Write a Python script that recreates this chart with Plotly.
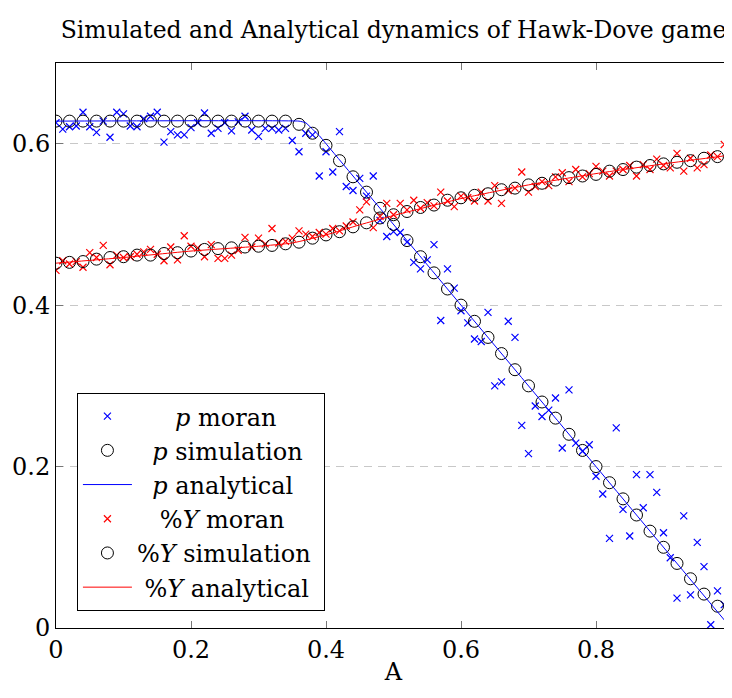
import plotly.graph_objects as go

# ---------------- data ----------------
a_moran = [round(i * 0.01, 2) for i in range(101)]
a_sim = [round(i * 0.02, 2) for i in range(51)]

p_moran = [
    0.626, 0.618, 0.621, 0.622, 0.639, 0.621, 0.614, 0.628, 0.608, 0.639,
    0.637, 0.622, 0.621, 0.631, 0.634, 0.639, 0.602, 0.615, 0.611, 0.611,
    0.620, 0.626, 0.638, 0.613, 0.619, 0.626, 0.616, 0.627, 0.634, 0.617,
    0.609, 0.619, 0.619, 0.617, 0.619, 0.604, 0.590, 0.613, 0.611, 0.560,
    0.590, 0.565, 0.615, 0.547, 0.542, 0.557, 0.535, 0.560, 0.505, 0.485,
    0.491, 0.490, 0.478, 0.453, 0.445, 0.456, 0.475, 0.381, 0.445, 0.421,
    0.393, 0.378, 0.358, 0.355, 0.391, 0.300, 0.305, 0.380, 0.360, 0.251,
    0.216, 0.275, 0.262, 0.270, 0.285, 0.223, 0.295, 0.229, 0.219, 0.227,
    0.188, 0.166, 0.111, 0.248, 0.147, 0.114, 0.190, 0.149, 0.190, 0.168,
    0.118, 0.087, 0.037, 0.139, 0.041, 0.106, 0.076, 0.004, 0.046, 0.029,
    0.073,
]

p_sim = [
    0.628, 0.628, 0.628, 0.628, 0.628, 0.628, 0.628, 0.628, 0.628, 0.628,
    0.628, 0.628, 0.628, 0.628, 0.628, 0.628, 0.628, 0.628, 0.624, 0.613,
    0.598, 0.579, 0.559, 0.540, 0.520, 0.500, 0.480, 0.460, 0.440, 0.420,
    0.400, 0.380, 0.360, 0.340, 0.320, 0.300, 0.280, 0.260, 0.240, 0.220,
    0.200, 0.180, 0.160, 0.140, 0.120, 0.100, 0.080, 0.061, 0.042, 0.027,
    0.014,
]

p_anal_a = [0.0, 0.36, 0.37, 0.38, 0.39, 0.40, 1.0]
p_anal = [0.628, 0.628, 0.626, 0.618, 0.610, 0.600, 0.0]

y_moran = [
    0.443, 0.455, 0.451, 0.454, 0.447, 0.465, 0.459, 0.474, 0.450, 0.462,
    0.459, 0.460, 0.463, 0.466, 0.469, 0.463, 0.455, 0.472, 0.456, 0.486,
    0.473, 0.471, 0.460, 0.475, 0.458, 0.458, 0.462, 0.468, 0.484, 0.472,
    0.483, 0.476, 0.495, 0.477, 0.479, 0.483, 0.492, 0.488, 0.485, 0.490,
    0.488, 0.495, 0.492, 0.498, 0.503, 0.518, 0.528, 0.496, 0.510, 0.526,
    0.512, 0.526, 0.518, 0.530, 0.520, 0.527, 0.523, 0.540, 0.529, 0.522,
    0.535, 0.533, 0.529, 0.540, 0.529, 0.548, 0.526, 0.542, 0.545, 0.565,
    0.540, 0.547, 0.553, 0.548, 0.559, 0.564, 0.553, 0.568, 0.559, 0.563,
    0.572, 0.566, 0.560, 0.566, 0.568, 0.573, 0.560, 0.574, 0.568, 0.581,
    0.573, 0.570, 0.588, 0.566, 0.582, 0.570, 0.574, 0.586, 0.584, 0.599,
    0.595,
]

y_sim = [
    0.452, 0.453, 0.454, 0.457, 0.459, 0.460, 0.462, 0.462, 0.464, 0.465,
    0.467, 0.469, 0.470, 0.471, 0.472, 0.473, 0.474, 0.476, 0.478, 0.483,
    0.487, 0.491, 0.497, 0.502, 0.508, 0.512, 0.516, 0.521, 0.524, 0.530,
    0.533, 0.536, 0.538, 0.543, 0.545, 0.549, 0.551, 0.555, 0.558, 0.560,
    0.562, 0.566, 0.568, 0.571, 0.573, 0.575, 0.577, 0.579, 0.582, 0.584,
    0.586,
]

y_anal_a = [0.0, 0.1, 0.2, 0.3, 0.35, 0.4, 0.45, 0.5, 0.6, 0.7, 0.8, 0.9, 1.0]
y_anal = [0.452, 0.459, 0.467, 0.473, 0.477, 0.487, 0.4995, 0.511, 0.532, 0.549, 0.563, 0.575, 0.586]

x_ticks = [0, 0.2, 0.4, 0.6, 0.8, 1]
x_tick_labels = ["0", "0.2", "0.4", "0.6", "0.8", "1"]
y_ticks = [0, 0.2, 0.4, 0.6]
y_tick_labels = ["0", "0.2", "0.4", "0.6"]

FONT = "DejaVu Serif"
FS = 24
NB = "\u00a0"  # non-breaking spaces used to centre legend labels

fig = go.Figure()
fig.add_trace(go.Scatter(x=a_moran, y=p_moran, mode="markers", name=NB * 5 + "<i>p</i> moran",
                         marker=dict(symbol="x-thin", size=7, line=dict(color="blue", width=1.2), color="blue")))
fig.add_trace(go.Scatter(x=a_sim, y=p_sim, mode="markers", name=NB * 2 + "<i>p</i> simulation",
                         marker=dict(symbol="circle-open", size=12, color="black", line=dict(color="black", width=1))))
fig.add_trace(go.Scatter(x=p_anal_a, y=p_anal, mode="lines", name=NB * 2 + "<i>p</i> analytical",
                         line=dict(color="blue", width=1, shape="spline", smoothing=0.3)))
fig.add_trace(go.Scatter(x=a_moran, y=y_moran, mode="markers", name=NB * 3 + "%<i>Y</i> moran",
                         marker=dict(symbol="x-thin", size=7, line=dict(color="red", width=1.2), color="red")))
fig.add_trace(go.Scatter(x=a_sim, y=y_sim, mode="markers", name="%<i>Y</i> simulation" + NB,
                         marker=dict(symbol="circle-open", size=12, color="black", line=dict(color="black", width=1))))
fig.add_trace(go.Scatter(x=y_anal_a, y=y_anal, mode="lines", name=NB + "%<i>Y</i> analytical",
                         line=dict(color="red", width=1, shape="spline", smoothing=0.5)))

# page body has an 8px margin, so the figure is sized/offset to compensate
fig.update_layout(
    width=724, height=682,
    margin=dict(l=48, r=1, t=55, b=62),
    paper_bgcolor="white", plot_bgcolor="white",
    font=dict(family=FONT, size=FS, color="black"),
    title=dict(text="Simulated and Analytical dynamics of Hawk-Dove game",
               x=0.5, xref="paper", xanchor="center",
               y=1 - 22 / 682, yref="container", yanchor="middle",
               font=dict(family=FONT, size=23.5, color="black")),
    showlegend=True,
    legend=dict(x=0.031, y=0.03, xanchor="left", yanchor="bottom",
                bgcolor="white", bordercolor="black", borderwidth=1,
                font=dict(family=FONT, size=FS, color="black"),
                itemwidth=49, tracegroupgap=0),
    xaxis=dict(range=[0, 1], tickvals=x_ticks, ticktext=x_tick_labels,
               showline=True, linecolor="black", linewidth=1, mirror="ticks",
               ticks="inside", ticklen=7, tickcolor="#777", tickwidth=1,
               showgrid=False, zeroline=False, automargin=False,
               ticklabeloverflow="allow",
               title=dict(text="A", standoff=0, font=dict(family=FONT, size=FS))),
    yaxis=dict(range=[0, 0.7], tickvals=y_ticks, ticktext=y_tick_labels,
               showline=True, linecolor="black", linewidth=1, mirror="ticks",
               ticks="inside", ticklen=7, tickcolor="#777", tickwidth=1,
               showgrid=True, gridcolor="#c8c8c8", gridwidth=1, griddash="8px,6px",
               zeroline=False, automargin=False, ticklabeloverflow="allow"),
)

fig.write_html("out.html")
